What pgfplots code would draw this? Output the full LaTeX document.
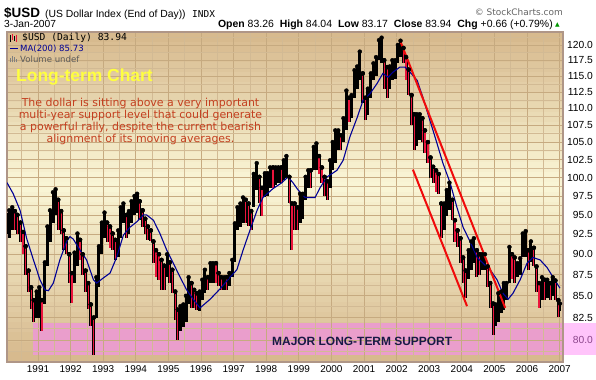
\documentclass[border=0pt]{standalone}
\usepackage{fontspec}
\setmainfont{Liberation Sans}
\newfontfamily\dvs{DejaVu Sans}
\newfontfamily\dvm{DejaVu Sans Mono}
\usepackage{pgfplots}
\usepackage{pgfplotstable}
\pgfplotsset{compat=1.18}
\definecolor{gridmaj}{RGB}{198,170,128}
\definecolor{gridmin}{RGB}{210,186,148}
\definecolor{framec}{RGB}{175,150,135}
\definecolor{barred}{RGB}{235,20,60}
\definecolor{macol}{RGB}{0,0,150}
\definecolor{trendred}{RGB}{240,10,10}
\definecolor{pinkin}{RGB}{234,158,204}
\definecolor{pinkout}{RGB}{255,196,250}
\definecolor{paracol}{RGB}{196,64,32}
\definecolor{ltyellow}{RGB}{255,255,64}
\definecolor{navytxt}{RGB}{25,25,70}
\definecolor{purplelab}{RGB}{140,70,140}
\definecolor{greenup}{RGB}{0,150,0}
\definecolor{copygray}{RGB}{100,100,100}
\definecolor{volgray}{RGB}{90,90,90}
% background strips
\definecolor{bgsa}{RGB}{215,186,142}
\definecolor{bgsb}{RGB}{217,189,146}
\definecolor{bgsc}{RGB}{219,193,150}
\definecolor{bgsd}{RGB}{221,196,155}
\definecolor{bgse}{RGB}{223,200,159}
\definecolor{bgsf}{RGB}{225,203,163}
\definecolor{bgsg}{RGB}{227,207,167}
\definecolor{bgsh}{RGB}{229,210,171}
\definecolor{bgsi}{RGB}{231,214,175}
\definecolor{bgsj}{RGB}{233,217,180}
\definecolor{bgsk}{RGB}{235,221,184}
\definecolor{bgsl}{RGB}{237,224,188}
\definecolor{bgsm}{RGB}{239,228,192}
\definecolor{bgsn}{RGB}{241,231,196}
\definecolor{bgso}{RGB}{243,235,200}
\definecolor{bgsp}{RGB}{245,238,204}
\definecolor{bgsq}{RGB}{247,241,209}
\definecolor{bgsr}{RGB}{249,245,213}
\definecolor{bgss}{RGB}{248,243,211}
\definecolor{bgst}{RGB}{246,239,206}
\definecolor{bgsu}{RGB}{244,235,201}
\definecolor{bgsv}{RGB}{241,231,196}
\definecolor{bgsw}{RGB}{239,227,191}
\definecolor{bgsx}{RGB}{236,223,186}
\definecolor{bgsy}{RGB}{234,219,181}
\definecolor{bgsz}{RGB}{232,215,176}
\definecolor{bgtA}{RGB}{229,211,172}
\definecolor{bgtB}{RGB}{227,206,167}
\definecolor{bgtC}{RGB}{225,202,162}
\definecolor{bgtD}{RGB}{222,198,157}
\definecolor{bgtE}{RGB}{220,194,152}
\definecolor{bgtF}{RGB}{218,190,147}
\definecolor{bgtG}{RGB}{215,186,142}

\pgfplotstableread{
t lo hi d
1990.04 92.5 95.3 1
1990.12 92.0 95.6 0
1990.21 93.0 96.0 0
1990.29 93.0 95.5 1
1990.37 92.5 95.0 1
1990.46 91.5 94.0 1
1990.54 90.0 92.8 1
1990.62 87.5 91.0 1
1990.71 85.5 88.0 1
1990.79 83.5 86.0 1
1990.87 82.0 84.5 1
1990.96 82.5 85.5 0
1991.04 82.5 86.0 0
1991.12 81.0 84.5 1
1991.21 84.0 89.0 0
1991.29 88.5 93.5 0
1991.37 91.5 95.6 0
1991.46 94.0 98.0 0
1991.54 95.0 98.4 0
1991.62 93.0 97.0 1
1991.71 92.5 95.5 1
1991.79 90.5 93.0 1
1991.87 90.0 92.0 1
1991.96 86.5 90.0 1
1992.04 84.2 87.7 1
1992.12 86.5 90.2 0
1992.21 88.5 92.6 0
1992.29 89.3 91.8 1
1992.37 87.5 90.0 1
1992.46 85.5 88.0 1
1992.54 83.5 86.5 1
1992.62 81.5 84.0 1
1992.71 78.4 82.5 1
1992.79 82.5 87.2 0
1992.87 86.0 91.0 0
1992.96 90.0 94.0 0
1993.04 92.0 95.3 0
1993.12 91.5 94.0 1
1993.21 90.8 93.5 1
1993.29 90.5 92.6 1
1993.37 89.3 91.8 1
1993.46 89.6 93.0 0
1993.54 92.0 96.0 0
1993.62 93.9 96.5 0
1993.71 92.0 95.0 1
1993.79 92.5 95.5 0
1993.87 94.0 96.8 0
1993.96 95.0 97.5 0
1994.04 95.2 97.8 0
1994.12 94.3 96.8 1
1994.21 93.4 95.6 1
1994.29 92.5 94.5 1
1994.37 91.8 93.5 1
1994.46 91.6 93.0 1
1994.54 88.9 91.6 1
1994.62 87.2 90.5 1
1994.71 86.9 90.0 1
1994.79 85.7 89.3 1
1994.87 85.7 88.6 1
1994.96 87.2 90.0 0
1995.04 86.5 89.0 1
1995.12 85.3 88.1 1
1995.21 82.2 85.5 1
1995.29 80.0 83.4 1
1995.37 81.0 83.8 0
1995.46 81.4 84.0 0
1995.54 82.0 85.0 0
1995.62 84.0 87.2 0
1995.71 83.6 86.5 1
1995.79 83.6 85.7 1
1995.87 83.4 85.3 1
1995.96 83.2 85.5 0
1996.04 84.5 86.9 0
1996.12 85.3 88.1 0
1996.21 85.7 87.2 1
1996.29 86.5 88.9 0
1996.37 86.5 88.9 0
1996.46 86.5 88.9 1
1996.54 86.1 87.7 1
1996.62 85.7 87.2 1
1996.71 85.7 87.2 0
1996.79 85.7 87.2 1
1996.87 86.1 87.7 0
1996.96 87.2 89.3 0
1997.04 89.0 93.9 0
1997.12 93.0 96.0 0
1997.21 93.4 96.5 0
1997.29 94.0 97.3 0
1997.37 93.9 97.0 1
1997.46 93.5 96.5 1
1997.54 93.0 95.5 1
1997.62 96.0 100.5 0
1997.71 98.3 102.0 0
1997.79 96.5 100.1 1
1997.87 94.8 98.6 1
1997.96 97.3 100.6 0
1998.04 97.5 100.6 0
1998.12 98.6 101.4 0
1998.21 98.6 101.4 1
1998.29 99.0 101.4 0
1998.37 99.3 101.4 0
1998.46 99.3 101.4 1
1998.54 99.7 102.4 0
1998.62 100.0 103.0 0
1998.71 96.5 100.1 1
1998.79 90.5 96.5 1
1998.87 93.0 96.5 1
1998.96 93.0 96.0 1
1999.04 93.9 97.8 0
1999.12 94.5 97.8 0
1999.21 96.9 100.1 0
1999.29 98.6 101.0 0
1999.37 98.6 101.0 1
1999.46 101.0 104.3 0
1999.54 101.0 104.8 0
1999.62 100.5 103.0 1
1999.71 99.3 101.4 1
1999.79 97.5 100.1 1
1999.87 96.9 99.5 1
1999.96 98.6 102.4 0
2000.04 101.0 105.0 0
2000.12 102.0 106.7 0
2000.21 103.8 106.7 0
2000.29 103.8 106.0 1
2000.37 105.0 108.5 0
2000.46 106.7 112.7 0
2000.54 107.9 111.6 1
2000.62 108.5 112.0 0
2000.71 111.6 115.9 0
2000.79 113.0 116.5 0
2000.87 114.3 118.9 0
2000.96 110.8 115.4 1
2001.04 108.2 111.6 1
2001.12 109.0 113.0 0
2001.21 111.6 115.4 0
2001.29 114.3 117.0 0
2001.37 115.0 118.0 0
2001.46 117.5 120.8 0
2001.54 117.0 121.2 0
2001.62 113.0 117.5 1
2001.71 111.6 116.4 1
2001.79 113.0 116.5 0
2001.87 114.3 117.5 0
2001.96 114.5 117.5 0
2002.04 117.0 120.0 0
2002.12 118.0 120.7 0
2002.21 117.0 119.5 1
2002.29 114.3 118.0 1
2002.37 112.0 116.0 1
2002.46 107.5 112.0 1
2002.54 103.8 109.1 1
2002.62 104.5 109.1 0
2002.71 105.3 109.1 0
2002.79 105.0 108.5 1
2002.87 103.5 106.7 1
2002.96 102.0 105.0 1
2003.04 100.0 102.8 1
2003.12 99.3 101.5 1
2003.21 98.0 101.0 1
2003.29 97.8 100.5 1
2003.37 92.0 96.5 1
2003.46 93.0 96.5 0
2003.54 94.8 98.3 0
2003.62 95.6 99.3 0
2003.71 94.3 97.0 1
2003.79 91.5 94.3 1
2003.87 90.9 93.0 1
2003.96 88.9 92.0 1
2004.04 86.5 89.6 1
2004.12 84.8 88.0 1
2004.21 87.0 90.5 0
2004.29 88.1 91.6 0
2004.37 88.9 92.0 0
2004.46 87.2 90.5 1
2004.54 87.5 90.0 1
2004.62 88.1 90.0 0
2004.71 88.1 90.0 0
2004.79 86.0 88.5 1
2004.87 83.6 86.5 1
2004.96 80.5 84.1 1
2005.04 81.5 84.0 0
2005.12 82.0 85.3 0
2005.21 83.0 85.5 0
2005.29 83.4 86.5 0
2005.37 84.5 86.5 0
2005.46 86.5 90.9 0
2005.54 87.0 90.0 1
2005.62 86.5 89.6 1
2005.71 87.2 88.9 0
2005.79 87.5 89.5 0
2005.87 89.6 92.6 0
2005.96 89.6 92.9 0
2006.04 88.1 90.5 1
2006.12 89.0 91.6 0
2006.21 88.5 90.8 1
2006.29 85.5 88.5 1
2006.37 83.6 86.5 1
2006.46 84.5 87.2 0
2006.54 84.5 86.9 1
2006.62 84.8 86.9 0
2006.71 84.5 86.5 1
2006.79 85.0 87.2 0
2006.87 84.5 86.8 1
2006.96 82.6 84.5 1
2007.01 83.2 84.1 0
}\price

\pgfplotstableread{
t ma
1990.05 99.3
1990.24 97.8
1990.45 95.6
1990.65 92.0
1990.86 89.3
1991.06 86.9
1991.21 85.7
1991.32 85.6
1991.47 86.5
1991.67 89.3
1991.88 91.6
1991.98 92.2
1992.08 91.9
1992.29 90.5
1992.49 89.3
1992.70 86.9
1992.80 86.5
1993.00 87.1
1993.21 87.7
1993.41 89.6
1993.62 92.4
1993.82 93.4
1994.03 94.1
1994.23 95.0
1994.33 95.0
1994.54 94.3
1994.74 92.6
1994.95 90.5
1995.15 88.9
1995.36 87.2
1995.56 85.7
1995.76 84.6
1995.97 83.6
1996.28 84.6
1996.58 85.8
1996.89 87.2
1997.10 88.1
1997.29 90.5
1997.50 93.0
1997.72 95.6
1997.90 97.3
1998.21 98.5
1998.48 99.3
1998.67 100.1
1998.82 99.3
1998.98 98.3
1999.19 97.3
1999.50 97.3
1999.65 98.6
1999.87 100.1
2000.17 101.0
2000.36 102.4
2000.57 105.8
2000.79 108.6
2000.97 111.2
2001.18 112.2
2001.40 113.8
2001.58 115.4
2001.74 114.8
2001.89 115.6
2002.10 116.4
2002.26 116.4
2002.41 115.6
2002.63 114.3
2002.81 111.6
2003.02 108.2
2003.24 104.8
2003.42 102.0
2003.64 99.3
2003.85 96.0
2004.04 93.4
2004.25 91.6
2004.47 89.6
2004.65 88.9
2004.87 88.1
2005.08 86.9
2005.26 85.3
2005.42 84.6
2005.57 85.3
2005.79 86.9
2006.00 88.9
2006.18 89.6
2006.40 89.3
2006.61 88.4
2006.80 87.2
2007.01 85.9
}\mavg

\begin{document}
\begin{tikzpicture}
\useasboundingbox (-7bp,-18bp) rectangle (589bp,362bp);
% background gradient, strips with named colours (tan - pale yellow band - tan)
\fill[bgsa] (0bp,0bp) rectangle (556bp,10.3bp);
\fill[bgsb] (0bp,10bp) rectangle (556bp,20.3bp);
\fill[bgsc] (0bp,20bp) rectangle (556bp,30.3bp);
\fill[bgsd] (0bp,30bp) rectangle (556bp,40.3bp);
\fill[bgse] (0bp,40bp) rectangle (556bp,50.3bp);
\fill[bgsf] (0bp,50bp) rectangle (556bp,60.3bp);
\fill[bgsg] (0bp,60bp) rectangle (556bp,70.3bp);
\fill[bgsh] (0bp,70bp) rectangle (556bp,80.3bp);
\fill[bgsi] (0bp,80bp) rectangle (556bp,90.3bp);
\fill[bgsj] (0bp,90bp) rectangle (556bp,100.3bp);
\fill[bgsk] (0bp,100bp) rectangle (556bp,110.3bp);
\fill[bgsl] (0bp,110bp) rectangle (556bp,120.3bp);
\fill[bgsm] (0bp,120bp) rectangle (556bp,130.3bp);
\fill[bgsn] (0bp,130bp) rectangle (556bp,140.3bp);
\fill[bgso] (0bp,140bp) rectangle (556bp,150.3bp);
\fill[bgsp] (0bp,150bp) rectangle (556bp,160.3bp);
\fill[bgsq] (0bp,160bp) rectangle (556bp,170.3bp);
\fill[bgsr] (0bp,170bp) rectangle (556bp,180.3bp);
\fill[bgss] (0bp,180bp) rectangle (556bp,190.3bp);
\fill[bgst] (0bp,190bp) rectangle (556bp,200.3bp);
\fill[bgsu] (0bp,200bp) rectangle (556bp,210.3bp);
\fill[bgsv] (0bp,210bp) rectangle (556bp,220.3bp);
\fill[bgsw] (0bp,220bp) rectangle (556bp,230.3bp);
\fill[bgsx] (0bp,230bp) rectangle (556bp,240.3bp);
\fill[bgsy] (0bp,240bp) rectangle (556bp,250.3bp);
\fill[bgsz] (0bp,250bp) rectangle (556bp,260.3bp);
\fill[bgtA] (0bp,260bp) rectangle (556bp,270.3bp);
\fill[bgtB] (0bp,270bp) rectangle (556bp,280.3bp);
\fill[bgtC] (0bp,280bp) rectangle (556bp,290.3bp);
\fill[bgtD] (0bp,290bp) rectangle (556bp,300.3bp);
\fill[bgtE] (0bp,300bp) rectangle (556bp,310.3bp);
\fill[bgtF] (0bp,310bp) rectangle (556bp,320.3bp);
\fill[bgtG] (0bp,320bp) rectangle (556bp,330bp);
% support zone (78.4 to 81.9 on the log scale)
\fill[pinkin] (26bp,7.28bp) rectangle (556bp,39.06bp);
\fill[pinkout] (556bp,7.28bp) rectangle (589bp,39.06bp);
\begin{axis}[
  at={(0,0)}, anchor=south west, scale only axis,
  width=556bp, height=330bp,
  xmin=1990.049, xmax=2007.104,
  ymode=log, ymin=77.62, ymax=122.16,
  xtick={1991,1992,1993,1994,1995,1996,1997,1998,1999,2000,2001,2002,2003,2004,2005,2006,2007},
  xticklabels={1991,1992,1993,1994,1995,1996,1997,1998,1999,2000,2001,2002,2003,2004,2005,2006,2007},
  minor xtick={1990.5,1991.5,1992.5,1993.5,1994.5,1995.5,1996.5,1997.5,1998.5,1999.5,2000.5,2001.5,2002.5,2003.5,2004.5,2005.5,2006.5},
  ytick={80,82.5,85,87.5,90,92.5,95,97.5,100,102.5,105,107.5,110,112.5,115,117.5,120},
  yticklabels={\textcolor{purplelab}{80.0},82.5,85.0,87.5,90.0,92.5,95.0,97.5,100.0,102.5,105.0,107.5,110.0,112.5,115.0,117.5,120.0},
  minor ytick={78.75,81.25,83.75,86.25,88.75,91.25,93.75,96.25,98.75,101.25,103.75,106.25,108.75,111.25,113.75,116.25,118.75,121.25},
  ytick pos=right, yticklabel pos=right,
  major tick length=0pt, minor tick length=0pt,
  xticklabel style={font=\fontsize{10}{12}\selectfont, yshift=-0.5bp},
  yticklabel style={font=\fontsize{10.3}{12}\selectfont, anchor=east, xshift=33.4bp},
  grid=both,
  major grid style={draw=gridmaj, line width=0.7bp},
  minor grid style={draw=gridmin, line width=0.7bp},
  axis line style={draw=framec, line width=1.3bp},
]
\addplot[only marks, mark=none, forget plot,
  error bars/.cd, y dir=minus, y explicit, error mark=none,
  error bar style={line width=3bp, draw=black, solid}]
  table[x=t, y=hi, y error minus expr={\thisrow{hi}-\thisrow{lo}}] {\price};
\addplot[only marks, mark=none, forget plot,
  restrict expr to domain={\thisrow{d}}{0.5:1.5},
  error bars/.cd, y dir=minus, y explicit, error mark=none,
  error bar style={line width=1.2bp, draw=barred, solid}]
  table[x=t, y=hi, y error minus expr={\thisrow{hi}-\thisrow{lo}}] {\price};
\addplot[macol, line width=1.1bp, mark=none] table[x=t, y=ma] {\mavg};
\addplot[trendred, line width=2bp, mark=none] coordinates {(2002.10,120.8) (2005.33,83.6)};
\addplot[trendred, line width=2bp, mark=none] coordinates {(2002.50,101.1) (2004.16,83.8)};
\end{axis}

\begin{scope}[shift={(-7bp,362bp)}, x=1bp, y=-1bp]
\node[anchor=base west, inner sep=0] at (4,17.5) {\fontsize{13.5}{16}\selectfont\bfseries \$USD};
\node[anchor=base west, inner sep=0] at (45,17.5) {\fontsize{10.4}{12}\selectfont (US Dollar Index (End of Day))};
\node[anchor=base west, inner sep=0] at (192,17.5) {\dvm\fontsize{9.5}{11}\selectfont INDX};
\node[anchor=base west, inner sep=0] at (4,28) {\fontsize{10.3}{12}\selectfont 3-Jan-2007};
\node[anchor=base east, inner sep=0] at (553,28) {\fontsize{10.5}{12}\selectfont \textbf{Open} 83.26\hspace{3bp} \textbf{High} 84.04\hspace{3bp} \textbf{Low} 83.17\hspace{3bp} \textbf{Close} 83.94\hspace{3bp} \textbf{Chg} +0.66 (+0.79\%)};
\node[anchor=base west, inner sep=0, text=greenup] at (555,27) {\dvs\fontsize{6}{7}\selectfont ▲};
\node[anchor=base east, inner sep=0, text=copygray] at (563,16) {\dvs\fontsize{9}{11}\selectfont © StockCharts.com};
% legend
\draw[black, line width=1bp] (11,35)--(11,42) (15,36)--(15,41);
\draw[barred, line width=1bp] (13,34)--(13,40) (17,35)--(17,42);
\node[anchor=base west, inner sep=0] at (22,41) {\dvm\fontsize{9.7}{11}\selectfont \$USD (Daily) 83.94};
\draw[macol, line width=1.4bp] (10,48.5)--(18,48.5);
\node[anchor=base west, inner sep=0, text=macol] at (20,51.7) {\dvs\fontsize{8.6}{10}\selectfont MA(200) 85.73};
\draw[gray, line width=1bp] (10.5,62.5)--(10.5,58.5) (12.5,62.5)--(12.5,56.5) (14.5,62.5)--(14.5,57.5) (16.5,62.5)--(16.5,59);
\node[anchor=base west, inner sep=0, text=volgray] at (20,62.7) {\dvs\fontsize{8.6}{10}\selectfont Volume undef};
% annotations
\node[anchor=base west, inner sep=0, text=ltyellow] at (16,81.5) {\fontsize{17.5}{20}\selectfont\bfseries Long-term Chart};
\node[anchor=base, inner sep=0, text=paracol] at (140.5,106.7) {\dvs\fontsize{11}{12}\selectfont The dollar is sitting above a very important};
\node[anchor=base, inner sep=0, text=paracol] at (140.5,118.7) {\dvs\fontsize{11}{12}\selectfont multi-year support level that could generate};
\node[anchor=base, inner sep=0, text=paracol] at (140.5,130.7) {\dvs\fontsize{11}{12}\selectfont a powerful rally, despite the current bearish};
\node[anchor=base, inner sep=0, text=paracol] at (140.5,142.7) {\dvs\fontsize{11}{12}\selectfont alignment of its moving averages.};
\node[anchor=base west, inner sep=0, text=navytxt] at (272,346) {\fontsize{12}{14}\selectfont\bfseries MAJOR LONG-TERM SUPPORT};
\end{scope}
\end{tikzpicture}
\end{document}
